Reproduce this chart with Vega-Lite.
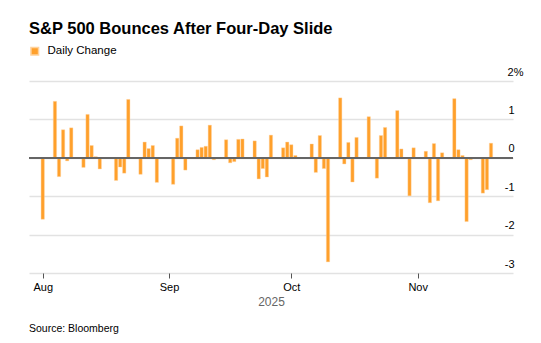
{
  "$schema": "https://vega.github.io/schema/vega-lite/v6.json",
  "width": 484,
  "height": 192,
  "autosize": {"type": "none"},
  "padding": {"left": 29, "top": 81, "right": 28, "bottom": 70},
  "background": "white",
  "config": {
    "font": "Liberation Sans",
    "view": {"stroke": null},
    "axisY": {
      "orient": "right",
      "title": null,
      "values": [-3, -2, -1, 0, 1, 2],
      "grid": true,
      "gridColor": "#e2e2e2",
      "gridWidth": 1.3,
      "domain": false,
      "ticks": false,
      "labelExpr": "datum.value == 2 ? '2%' : '' + datum.value",
      "labelAlign": "right",
      "labelBaseline": "alphabetic",
      "labelOffset": -6,
      "labelOverlap": false,
      "labelBound": false,
      "labelPadding": 1,
      "labelFontSize": 11,
      "labelColor": "#000000"
    }
  },
  "title": {
    "text": "Source: Bloomberg",
    "orient": "bottom",
    "anchor": "start",
    "frame": "group",
    "fontSize": 10.5,
    "fontWeight": "normal",
    "color": "#000000",
    "offset": 17
  },
  "data": {
    "values": [
      {"date": "2025-08-01", "change": -1.60},
      {"date": "2025-08-04", "change": 1.47},
      {"date": "2025-08-05", "change": -0.49},
      {"date": "2025-08-06", "change": 0.73},
      {"date": "2025-08-07", "change": -0.08},
      {"date": "2025-08-08", "change": 0.78},
      {"date": "2025-08-11", "change": -0.25},
      {"date": "2025-08-12", "change": 1.13},
      {"date": "2025-08-13", "change": 0.32},
      {"date": "2025-08-14", "change": 0.03},
      {"date": "2025-08-15", "change": -0.29},
      {"date": "2025-08-18", "change": -0.01},
      {"date": "2025-08-19", "change": -0.59},
      {"date": "2025-08-20", "change": -0.24},
      {"date": "2025-08-21", "change": -0.40},
      {"date": "2025-08-22", "change": 1.52},
      {"date": "2025-08-25", "change": -0.43},
      {"date": "2025-08-26", "change": 0.41},
      {"date": "2025-08-27", "change": 0.24},
      {"date": "2025-08-28", "change": 0.32},
      {"date": "2025-08-29", "change": -0.64},
      {"date": "2025-09-02", "change": -0.69},
      {"date": "2025-09-03", "change": 0.51},
      {"date": "2025-09-04", "change": 0.83},
      {"date": "2025-09-05", "change": -0.32},
      {"date": "2025-09-08", "change": 0.21},
      {"date": "2025-09-09", "change": 0.27},
      {"date": "2025-09-10", "change": 0.30},
      {"date": "2025-09-11", "change": 0.85},
      {"date": "2025-09-12", "change": -0.05},
      {"date": "2025-09-15", "change": 0.47},
      {"date": "2025-09-16", "change": -0.13},
      {"date": "2025-09-17", "change": -0.10},
      {"date": "2025-09-18", "change": 0.48},
      {"date": "2025-09-19", "change": 0.49},
      {"date": "2025-09-22", "change": 0.44},
      {"date": "2025-09-23", "change": -0.55},
      {"date": "2025-09-24", "change": -0.28},
      {"date": "2025-09-25", "change": -0.50},
      {"date": "2025-09-26", "change": 0.59},
      {"date": "2025-09-29", "change": 0.26},
      {"date": "2025-09-30", "change": 0.41},
      {"date": "2025-10-01", "change": 0.34},
      {"date": "2025-10-02", "change": 0.06},
      {"date": "2025-10-03", "change": 0.01},
      {"date": "2025-10-06", "change": 0.36},
      {"date": "2025-10-07", "change": -0.38},
      {"date": "2025-10-08", "change": 0.58},
      {"date": "2025-10-09", "change": -0.28},
      {"date": "2025-10-10", "change": -2.71},
      {"date": "2025-10-13", "change": 1.56},
      {"date": "2025-10-14", "change": -0.16},
      {"date": "2025-10-15", "change": 0.40},
      {"date": "2025-10-16", "change": -0.63},
      {"date": "2025-10-17", "change": 0.53},
      {"date": "2025-10-20", "change": 1.07},
      {"date": "2025-10-21", "change": 0.00},
      {"date": "2025-10-22", "change": -0.53},
      {"date": "2025-10-23", "change": 0.58},
      {"date": "2025-10-24", "change": 0.79},
      {"date": "2025-10-27", "change": 1.23},
      {"date": "2025-10-28", "change": 0.23},
      {"date": "2025-10-29", "change": 0.00},
      {"date": "2025-10-30", "change": -0.99},
      {"date": "2025-10-31", "change": 0.26},
      {"date": "2025-11-03", "change": 0.17},
      {"date": "2025-11-04", "change": -1.17},
      {"date": "2025-11-05", "change": 0.37},
      {"date": "2025-11-06", "change": -1.12},
      {"date": "2025-11-07", "change": 0.13},
      {"date": "2025-11-10", "change": 1.54},
      {"date": "2025-11-11", "change": 0.21},
      {"date": "2025-11-12", "change": 0.06},
      {"date": "2025-11-13", "change": -1.66},
      {"date": "2025-11-14", "change": -0.05},
      {"date": "2025-11-17", "change": -0.92},
      {"date": "2025-11-18", "change": -0.83},
      {"date": "2025-11-19", "change": 0.38}
    ]
  },
  "layer": [
    {
      "mark": {"type": "bar", "size": 3.3, "stroke": "#FFD29C", "strokeWidth": 0.4},
      "encoding": {
        "x": {
          "field": "date",
          "type": "temporal",
          "scale": {"type": "utc", "domain": ["2025-07-29T20:40:00Z", "2025-11-23T04:00:00Z"]},
          "axis": {
            "values": ["2025-08-01T00:00:00Z", "2025-09-01T00:00:00Z", "2025-10-01T00:00:00Z", "2025-11-01T00:00:00Z"],
            "labelExpr": "utcFormat(datum.value, '%b')",
            "title": "2025",
            "titleFontSize": 12,
            "titleFontWeight": "normal",
            "titleColor": "#666666",
            "titlePadding": 4,
            "labelFontSize": 11,
            "labelColor": "#000000",
            "labelPadding": 3,
            "labelOverlap": false,
            "tickSize": 5,
            "tickColor": "#555555",
            "domain": false,
            "grid": false
          }
        },
        "y": {
          "field": "change",
          "type": "quantitative",
          "scale": {"domain": [-3, 2], "nice": false},
          "axis": {
            "labelPadding": {"condition": {"test": "datum.value == 2", "value": 10}, "value": 1}
          }
        },
        "color": {
          "datum": "Daily Change",
          "scale": {"range": ["#FFA02B"]},
          "legend": {
            "title": "S&P 500 Bounces After Four-Day Slide",
            "titleFontSize": 16.5,
            "titleFontWeight": "bold",
            "titleColor": "#000000",
            "titlePadding": 8,
            "titleLimit": 500,
            "orient": "none",
            "legendX": 0,
            "legendY": -60,
            "symbolType": "square",
            "symbolSize": 58,
            "symbolOpacity": 1,
            "labelFontSize": 11.5,
            "labelColor": "#000000",
            "labelOffset": 7
          }
        }
      }
    },
    {
      "mark": {"type": "rule", "color": "#666666", "strokeWidth": 1},
      "encoding": {
        "y": {
          "datum": 0,
          "type": "quantitative",
          "axis": {
            "labelPadding": {"condition": {"test": "datum.value == 2", "value": 10}, "value": 1}
          }
        }
      }
    }
  ]
}
